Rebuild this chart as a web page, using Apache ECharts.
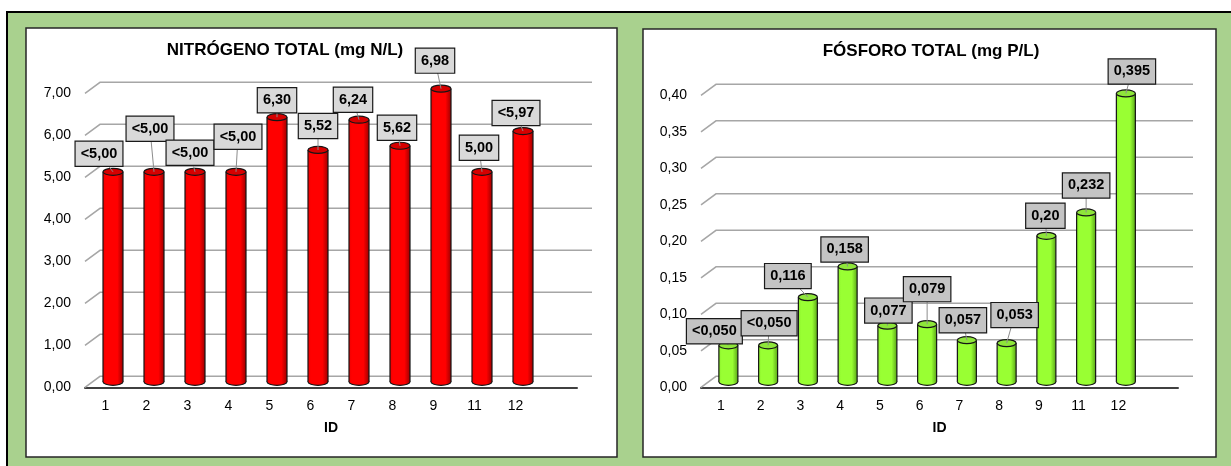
<!DOCTYPE html>
<html>
<head>
<meta charset="utf-8">
<script src="https://cdn.jsdelivr.net/npm/echarts@6/dist/echarts.min.js"></script>
<style>
  html, body { margin: 0; padding: 0; background: #fff; }
  #chart { width: 1231px; height: 466px; }
</style>
</head>
<body>
<div id="chart"></div>
<script>
// Sampling points (ID 10 has no result)
const ids = ['1', '2', '3', '4', '5', '6', '7', '8', '9', '11', '12'];

// Total nitrogen, mg N/L
const nitrogen = [5.00, 5.00, 5.00, 5.00, 6.30, 5.52, 6.24, 5.62, 6.98, 5.00, 5.97];
const nitrogenLabels = ['<5,00', '<5,00', '<5,00', '<5,00', '6,30', '5,52', '6,24', '5,62', '6,98', '5,00', '<5,97'];
const nitrogenTicks = [0, 1, 2, 3, 4, 5, 6, 7];

// Total phosphorus, mg P/L
const phosphorus = [0.050, 0.050, 0.116, 0.158, 0.077, 0.079, 0.057, 0.053, 0.20, 0.232, 0.395];
const phosphorusLabels = ['<0,050', '<0,050', '0,116', '0,158', '0,077', '0,079', '0,057', '0,053', '0,20', '0,232', '0,395'];
const phosphorusTicks = [0, 0.05, 0.10, 0.15, 0.20, 0.25, 0.30, 0.35, 0.40];

// Callout nudges (px) from the top of each cylinder
const nitrogenCallouts = [[-14, -18], [-4, -43], [-5, -19], [2, -35], [0, -17], [0, -24], [-6, -20], [-3, -18], [-6, -28], [-3, -24], [-7, -18]];
const phosphorusCallouts = [[-14, -14], [1, -22], [-20, -21], [-3, -17], [1, -15], [0, -35], [-4, -20], [8, -28], [-1, -20], [0, -27], [6, -22]];

const FONT = '"Liberation Sans", Arial, sans-serif';
const DEPTH_X = 15, DEPTH_Y = 11;   // oblique offset of the back wall

const fmt = (digits) => (v) => v.toFixed(digits).replace('.', ',');

// back wall grid lines with their oblique stubs
function wallSeries(idx, ticks) {
  return {
    type: 'custom', xAxisIndex: idx, yAxisIndex: idx, z: 1, silent: true,
    data: ticks.map(t => [0, t]),
    encode: { x: 0, y: 1 },
    renderItem(params, api) {
      const cs = params.coordSys;
      const y = api.coord([0, api.value(1)])[1];
      const x0 = cs.x, x1 = cs.x + cs.width;
      return {
        type: 'polyline',
        shape: { points: [[x0, y], [x0 + DEPTH_X, y - DEPTH_Y], [x1 + DEPTH_X, y - DEPTH_Y]] },
        style: { stroke: '#a6a6a6', lineWidth: 1.5, fill: null }
      };
    }
  };
}

// cylinders standing halfway into the floor depth
function cylinderSeries(idx, values, look) {
  return {
    type: 'custom', xAxisIndex: idx, yAxisIndex: idx, z: 5, silent: true,
    data: values.map((v, i) => [i, v]),
    encode: { x: 0, y: 1 },
    renderItem(params, api) {
      const i = api.value(0), v = api.value(1);
      const base = api.coord([i, 0]);
      const top = api.coord([i, v]);
      const cx = base[0] + DEPTH_X / 2;
      const yb = base[1] - DEPTH_Y / 2;
      const yt = top[1] - DEPTH_Y / 2;
      const rx = look.width / 2, ry = look.ry;
      const body = new echarts.graphic.LinearGradient(0, 0, 1, 0, look.body);
      const edge = { stroke: '#151515', lineWidth: 1.2 };
      return {
        type: 'group',
        children: [
          { type: 'ellipse', shape: { cx: cx, cy: yb, rx: rx, ry: ry }, style: Object.assign({ fill: body }, edge) },
          { type: 'rect', shape: { x: cx - rx, y: yt, width: look.width, height: yb - yt }, style: { fill: body } },
          { type: 'line', shape: { x1: cx - rx, y1: yt, x2: cx - rx, y2: yb }, style: edge },
          { type: 'line', shape: { x1: cx + rx, y1: yt, x2: cx + rx, y2: yb }, style: edge },
          { type: 'ellipse', shape: { cx: cx, cy: yt, rx: rx, ry: ry }, style: Object.assign({ fill: look.cap }, edge) }
        ]
      };
    }
  };
}

// value callouts with leader lines
function calloutSeries(idx, values, labels, nudges, boxFill) {
  return {
    type: 'custom', xAxisIndex: idx, yAxisIndex: idx, z: 8, silent: true,
    data: values.map((v, i) => [i, v]),
    encode: { x: 0, y: 1 },
    renderItem(params, api) {
      const i = api.value(0), v = api.value(1);
      const base = api.coord([i, 0]);
      const top = api.coord([i, v]);
      const cx = base[0] + DEPTH_X / 2;
      const yt = top[1] - DEPTH_Y / 2;
      const lx = cx + nudges[i][0], ly = yt + nudges[i][1];
      return {
        type: 'group',
        children: [
          { type: 'line', shape: { x1: lx, y1: ly, x2: cx, y2: yt }, style: { stroke: '#8c8c8c', lineWidth: 1 } },
          {
            type: 'text', x: lx, y: ly,
            style: {
              text: labels[i], font: 'bold 14.5px ' + FONT, fill: '#000',
              align: 'center', verticalAlign: 'middle',
              backgroundColor: boxFill, borderColor: '#1a1a1a', borderWidth: 1.2,
              padding: [5, 5, 4, 5]
            }
          }
        ]
      };
    }
  };
}

function xAxis(idx) {
  return {
    type: 'category', gridIndex: idx,
    data: ids.concat(['']),           // spare slot keeps room on the right of the floor
    axisLine: { show: true, lineStyle: { color: '#404040', width: 2 } },
    axisTick: { show: false },
    axisLabel: { fontSize: 14, color: '#000', fontFamily: FONT, margin: 12 },
    splitLine: { show: false },
    name: 'ID', nameLocation: 'middle', nameGap: 34,
    nameTextStyle: { fontSize: 14, fontWeight: 'bold', color: '#000', fontFamily: FONT }
  };
}

function yAxis(idx, max, step, digits) {
  return {
    type: 'value', gridIndex: idx, min: 0, max: max, interval: step,
    axisLine: { show: false }, axisTick: { show: false }, splitLine: { show: false },
    axisLabel: { fontSize: 14, color: '#000', fontFamily: FONT, margin: 14, formatter: fmt(digits) }
  };
}

const redLook = {
  width: 20, ry: 3.5, cap: '#d60000',
  body: [{ offset: 0, color: '#ee0000' }, { offset: 0.15, color: '#ff0000' }, { offset: 0.72, color: '#ff0000' }, { offset: 1, color: '#a00000' }]
};
const greenLook = {
  width: 19, ry: 3.5, cap: '#8ee63a',
  body: [{ offset: 0, color: '#8cf02a' }, { offset: 0.15, color: '#99ff33' }, { offset: 0.72, color: '#99ff33' }, { offset: 1, color: '#5aa818' }]
};

const chart = echarts.init(document.getElementById('chart'), null, { renderer: 'canvas' });
chart.setOption({
  animation: false,
  backgroundColor: '#fff',
  graphic: [
    { type: 'rect', z: -10, shape: { x: 7, y: 12, width: 1240, height: 470 }, style: { fill: '#a9d18e', stroke: '#000', lineWidth: 2 } },
    { type: 'rect', z: -9, shape: { x: 26, y: 28, width: 591, height: 429 }, style: { fill: '#fff', stroke: '#262626', lineWidth: 1.5 } },
    { type: 'rect', z: -9, shape: { x: 643, y: 29, width: 573, height: 428 }, style: { fill: '#fff', stroke: '#262626', lineWidth: 1.5 } }
  ],
  title: [
    { text: 'NITRÓGENO TOTAL (mg N/L)', left: 285, top: 42, textAlign: 'center', padding: 0,
      textStyle: { fontSize: 17, fontWeight: 'bold', color: '#000', fontFamily: FONT } },
    { text: 'FÓSFORO TOTAL (mg P/L)', left: 931, top: 43, textAlign: 'center', padding: 0,
      textStyle: { fontSize: 17, fontWeight: 'bold', color: '#000', fontFamily: FONT } }
  ],
  grid: [
    { left: 85, top: 93.3, width: 492, height: 294 },
    { left: 701, top: 95.3, width: 477, height: 292 }
  ],
  xAxis: [xAxis(0), xAxis(1)],
  yAxis: [yAxis(0, 7, 1, 2), yAxis(1, 0.40, 0.05, 2)],
  series: [
    wallSeries(0, nitrogenTicks),
    cylinderSeries(0, nitrogen, redLook),
    calloutSeries(0, nitrogen, nitrogenLabels, nitrogenCallouts, '#d9d9d9'),
    wallSeries(1, phosphorusTicks),
    cylinderSeries(1, phosphorus, greenLook),
    calloutSeries(1, phosphorus, phosphorusLabels, phosphorusCallouts, '#c4c4c4')
  ]
});
</script>
</body>
</html>
